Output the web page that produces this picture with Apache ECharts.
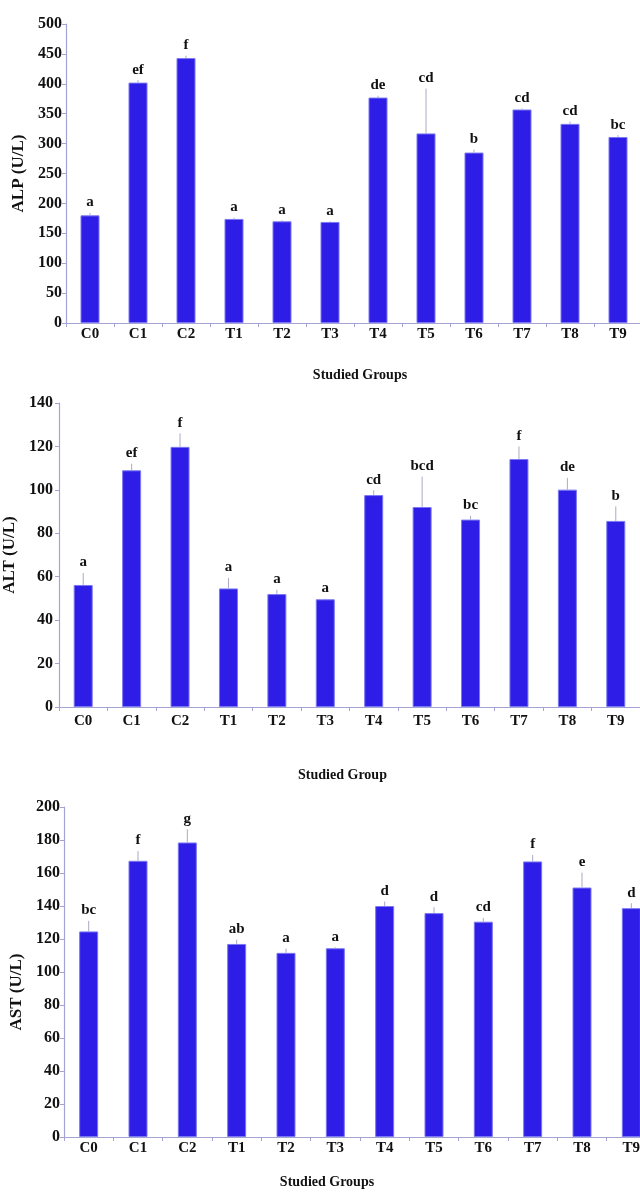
<!DOCTYPE html>
<html>
<head>
<meta charset="utf-8">
<script src="https://cdn.jsdelivr.net/npm/echarts@6/dist/echarts.min.js"></script>
<style>html,body{margin:0;padding:0;background:#fff}#c{width:640px;height:1195px}</style>
</head>
<body>
<div id="c"></div>
<script>
const categories = ['C0','C1','C2','T1','T2','T3','T4','T5','T6','T7','T8','T9'];

const alpMean = [180, 402, 443, 174, 170, 169, 377, 317, 285, 357, 333, 311];
const alpErr  = [4, 4, 4, 2, 2, 1, 3, 75, 5, 2, 4, 3];
const alpLetters = ['a','ef','f','a','a','a','de','cd','b','cd','cd','bc'];

const altMean = [56.2, 109, 119.8, 54.6, 52, 49.6, 97.6, 92.1, 86.3, 114.2, 100.1, 85.7];
const altErr  = [5.5, 3, 6.2, 4.8, 2, 0.3, 2.2, 14, 1.7, 5.8, 5.4, 6.7];
const altLetters = ['a','ef','f','a','a','a','cd','bcd','bc','f','de','b'];

const astMean = [124.6, 167.4, 178.5, 117, 111.6, 114.4, 140, 135.7, 130.5, 167, 151.2, 138.7];
const astErr  = [6.4, 5.9, 8, 2.6, 2.6, 0.6, 2.7, 3.6, 2.2, 3.9, 9, 3];
const astLetters = ['bc','f','g','ab','a','a','d','d','cd','f','e','d'];

const panels = [
  {mean: alpMean, err: alpErr, letters: alpLetters, yName: 'ALP (U/L)', xName: 'Studied Groups',
   max: 500, interval: 50, grid: {left: 66, top: 24, height: 299, right: -2},
   yGap: 38, yPad: [0,0,0,0], xGap: 45, xPad: [0,0,0,12], xLabelMargin: 4, yLabelMargin: 4},
  {mean: altMean, err: altErr, letters: altLetters, yName: 'ALT (U/L)', xName: 'Studied Group',
   max: 140, interval: 20, grid: {left: 59, top: 403, height: 304, right: 0},
   yGap: 32, yPad: [0,0,0,0], xGap: 61, xPad: [0,14,0,0], xLabelMargin: 7, yLabelMargin: 6},
  {mean: astMean, err: astErr, letters: astLetters, yName: 'AST (U/L)', xName: 'Studied Groups',
   max: 200, interval: 20, grid: {left: 64, top: 807, height: 330, right: -16},
   yGap: 35, yPad: [0,40,0,0], xGap: 38, xPad: [0,66,0,0], xLabelMargin: 4, yLabelMargin: 4}
];

const axisColor = '#a4a4d4';
const font = 'Liberation Serif';

const option = {
  animation: false,
  backgroundColor: '#ffffff',
  grid: [], xAxis: [], yAxis: [], series: []
};

panels.forEach((p, k) => {
  option.grid.push(Object.assign({containLabel: false, outerBoundsMode: 'none'}, p.grid));
  option.xAxis.push({
    type: 'category', gridIndex: k, data: categories,
    name: p.xName, nameLocation: 'middle', nameGap: p.xGap,
    nameTextStyle: {fontFamily: font, fontWeight: 'bold', fontSize: 14, color: '#111', padding: p.xPad},
    axisLine: {lineStyle: {color: axisColor, width: 1.2}},
    axisTick: {show: true, length: 4, lineStyle: {color: axisColor}},
    axisLabel: {fontFamily: font, fontWeight: 'bold', fontSize: 15, color: '#111', margin: p.xLabelMargin, interval: 0},
    splitLine: {show: false}
  });
  option.yAxis.push({
    type: 'value', gridIndex: k, min: 0, max: p.max, interval: p.interval,
    name: p.yName, nameLocation: 'middle', nameGap: p.yGap, nameRotate: 90,
    nameTextStyle: {fontFamily: font, fontWeight: 'bold', fontSize: 17, color: '#111', padding: p.yPad},
    axisLine: {show: true, lineStyle: {color: axisColor, width: 1.2}},
    axisTick: {show: true, length: 4, lineStyle: {color: axisColor}},
    axisLabel: {fontFamily: font, fontWeight: 'bold', fontSize: 16, color: '#111', margin: p.yLabelMargin},
    splitLine: {show: false}
  });
  option.series.push({
    type: 'bar', xAxisIndex: k, yAxisIndex: k, data: p.mean, barWidth: 19,
    itemStyle: {color: '#2e1de6', borderColor: '#7a78f2', borderWidth: 1}
  });
  option.series.push({
    type: 'custom', xAxisIndex: k, yAxisIndex: k,
    data: p.mean.map((m, i) => [i, m, m + p.err[i]]),
    encode: {x: 0, y: [1, 2]},
    z: 5,
    renderItem: function (params, api) {
      const i = api.value(0);
      const base = api.coord([i, api.value(1)]);
      const top = api.coord([i, api.value(2)]);
      return {
        type: 'group',
        children: [
          {type: 'line', shape: {x1: base[0], y1: base[1], x2: top[0], y2: top[1]},
           style: {stroke: '#aaaac4', lineWidth: 1}},
          {type: 'text', x: top[0], y: top[1] - 3,
           style: {text: p.letters[i], fontFamily: font, fontWeight: 'bold', fontSize: 15,
                   fill: '#111', align: 'center', verticalAlign: 'bottom'}}
        ]
      };
    }
  });
});

const chart = echarts.init(document.getElementById('c'), null, {renderer: 'canvas'});
chart.setOption(option);
</script>
</body>
</html>
